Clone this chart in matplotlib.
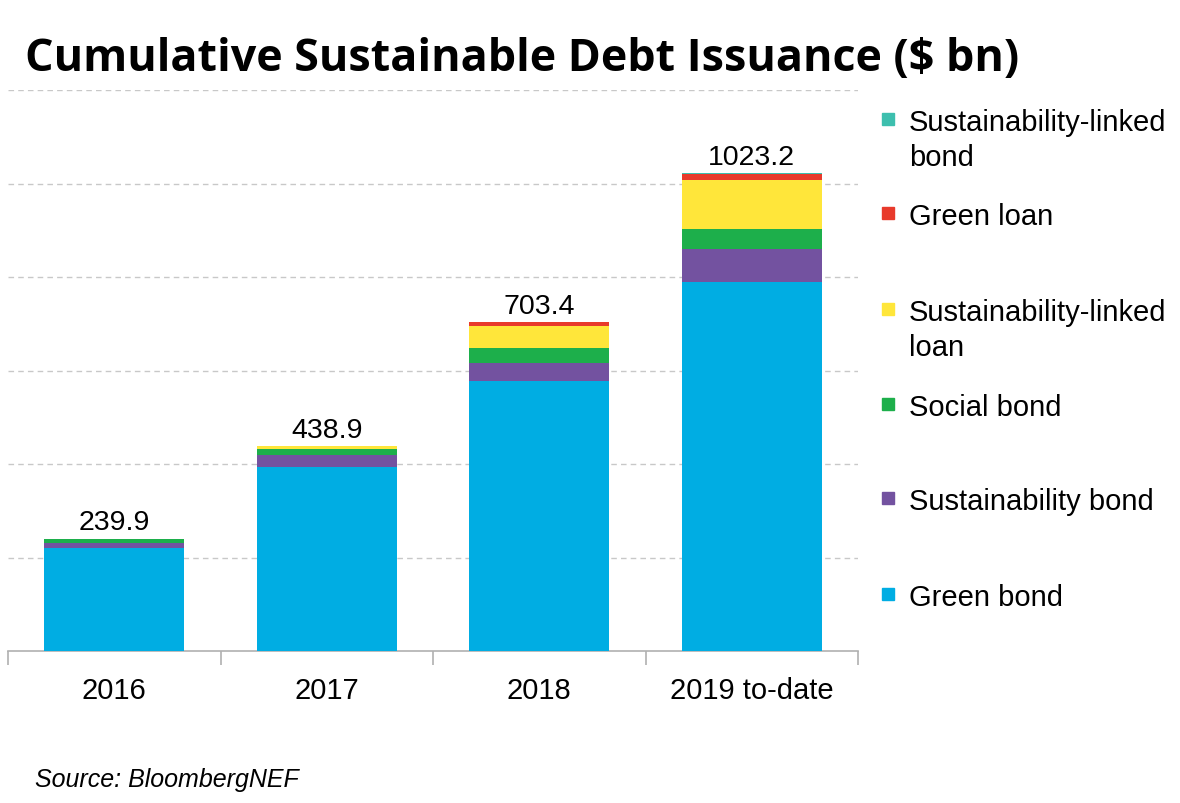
import matplotlib
matplotlib.use("Agg")
import matplotlib.pyplot as plt
from matplotlib.patches import Rectangle
import numpy as np

# data (bn USD)
years = ["2016", "2017", "2018", "2019 to-date"]
green_bond = [221.0, 393.0, 578.0, 790.0]
sustainability_bond = [10.0, 27.0, 38.0, 70.0]
social_bond = [8.9, 12.0, 32.0, 43.0]
sust_linked_loan = [0.0, 6.9, 47.4, 106.0]
green_loan = [0.0, 0.0, 8.0, 12.0]
sust_linked_bond = [0.0, 0.0, 0.0, 2.2]

series = [
    ("Green bond", green_bond, "#00ADE3"),
    ("Sustainability bond", sustainability_bond, "#7352A0"),
    ("Social bond", social_bond, "#1DAF4B"),
    ("Sustainability-linked\nloan", sust_linked_loan, "#FFE63A"),
    ("Green loan", green_loan, "#E83A2B"),
    ("Sustainability-linked\nbond", sust_linked_bond, "#3DBFAE"),
]

plt.rcParams["font.family"] = ["Liberation Sans", "DejaVu Sans"]

fig = plt.figure(figsize=(11.8, 8.04), dpi=100)
ax = fig.add_axes([8 / 1180, 152 / 804, 850 / 1180, 561 / 804])

x = np.arange(len(years))
bottom = np.zeros(len(years))
for name, vals, col in series:
    ax.bar(x, vals, 0.66, bottom=bottom, color=col, zorder=3)
    bottom += np.array(vals)

for xi, tot in zip(x, bottom):
    ax.annotate(f"{tot:.1f}", (xi, tot), xytext=(0, 2.5), textcoords="offset points",
                ha="center", va="bottom", fontsize=20.5)

ax.set_xlim(-0.5, 3.5)
ax.set_ylim(0, 1201)
ax.set_yticks([200, 400, 600, 800, 1000, 1200])
ax.yaxis.grid(True, linestyle=(0, (4, 3)), color="#c8c8c8", linewidth=1, zorder=0)
ax.tick_params(axis="y", left=False, labelleft=False)

ax.set_xticks(x)
ax.set_xticklabels(years, fontsize=21)
ax.set_xticks(np.arange(-0.5, 4, 1), minor=True)
ax.tick_params(axis="x", which="major", length=0, pad=18)
ax.tick_params(axis="x", which="minor", length=10, color="#b0b0b0", width=1.2)

for s in ["top", "right", "left"]:
    ax.spines[s].set_visible(False)
ax.spines["bottom"].set_color("#b0b0b0")
ax.spines["bottom"].set_linewidth(1.2)

# title
fig.text(25 / 1180, 1 - 60 / 804, "Cumulative Sustainable Debt Issuance (\\$ bn)",
         fontsize=32.3, fontweight="bold", family=["Open Sans", "DejaVu Sans"],
         ha="left", va="center")

# legend, markers aligned with first text line
legend_y = [120, 214, 310, 405, 499, 595]
for (name, vals, col), py in zip(series[::-1], legend_y):
    fig.patches.append(Rectangle((882 / 1180, 1 - (py + 6) / 804), 12 / 1180, 12 / 804,
                                 transform=fig.transFigure, color=col))
    fig.text(909 / 1180, 1 - (py - 11) / 804, name, fontsize=21, ha="left", va="top",
             linespacing=1.3)

fig.text(35 / 1180, 1 - 780 / 804, "Source: BloombergNEF", fontsize=18, style="italic",
         ha="left", va="center")

fig.savefig("out.png", dpi=100)
